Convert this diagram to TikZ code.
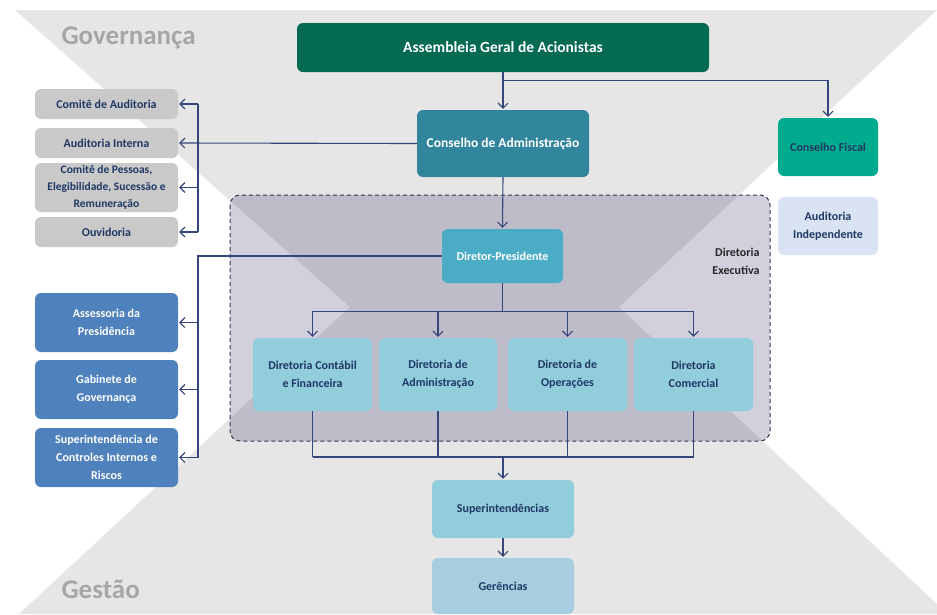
\documentclass[tikz,border=0pt]{standalone}
\usepackage{fontspec}
\setmainfont{Carlito}
\usetikzlibrary{arrows.meta}

\definecolor{bgGray}{HTML}{E6E6E6}
\definecolor{agGreen}{HTML}{046A51}
\definecolor{caTeal}{HTML}{31859C}
\definecolor{cfGreen}{HTML}{00AB8E}
\definecolor{aiBlue}{HTML}{DAE3F3}
\definecolor{comGray}{HTML}{C9C9C9}
\definecolor{dpBlue}{HTML}{4BACC6}
\definecolor{assBlue}{HTML}{4F81BD}
\definecolor{dirBlue}{HTML}{92CDDC}
\definecolor{gerBlue}{HTML}{A7CEDF}
\definecolor{navyTxt}{HTML}{1F3864}
\definecolor{lineBlue}{HTML}{35467A}
\definecolor{dashPurple}{HTML}{403151}
\definecolor{execFill}{HTML}{231459}
\definecolor{titleGray}{HTML}{A6A6A6}

\tikzset{
  box/.style={rounded corners=6pt, inner sep=2pt, align=center, text=navyTxt,
    font=\bfseries\fontsize{12}{18}\selectfont},
  gbox/.style={box, fill=comGray, minimum width=143pt, minimum height=30pt},
  bbox/.style={box, fill=assBlue, text=white, minimum width=143pt, minimum height=59pt},
  dbox/.style={box, fill=dirBlue, minimum width=119pt, minimum height=73pt},
  rbox/.style={box, minimum width=100pt, minimum height=58pt},
  title/.style={anchor=base west, text=titleGray, font=\bfseries\fontsize{27}{30}\selectfont},
  conn/.style={draw=lineBlue, line width=1.1pt},
  arr/.style={conn, -{Straight Barb[length=5pt,width=10pt]}, shorten >=1pt},
  execarea/.style={rounded corners=10pt, fill=execFill, fill opacity=0.2,
    draw=dashPurple, line width=1pt, dash pattern=on 4pt off 3pt}
}

\begin{document}
\begin{tikzpicture}[x=1pt,y=-1pt]
  \useasboundingbox (0,0) rectangle (937,614);
  % fundo
  \fill[bgGray] (15,10) -- (937,10) -- (619,307) -- (937,604) -- (937,614)
    -- (19,614) -- (350,307) -- cycle;
  \node[title] (gov) at (58,44) {Governança};
  \node[title] (ges) at (58,598) {Gestão};
  \draw[execarea] (230,195) rectangle (770,441);
  \node[anchor=east, align=right, text=black!85, font=\bfseries\fontsize{12}{18}\selectfont]
    (dex) at (763,261) {Diretoria\\Executiva};

  \draw
    (503,47.5) node[box, fill=agGreen, text=white, minimum width=412pt, minimum height=49pt,
      font=\bfseries\fontsize{15.5}{18}\selectfont] (ag) {Assembleia Geral de Acionistas}
    (503,143.5) node[box, fill=caTeal, text=white, minimum width=172pt, minimum height=67pt,
      font=\bfseries\fontsize{13.5}{18}\selectfont] (ca) {Conselho de Administração}
    (828,147) node[rbox, fill=cfGreen] (cf) {Conselho Fiscal}
    (828,226) node[rbox, fill=aiBlue] (ai) {Auditoria\\Independente}
    (106.5,104) node[gbox] (cau) {Comitê de Auditoria}
    (106.5,143) node[gbox] (aint) {Auditoria Interna}
    (106.5,187.5) node[gbox, minimum height=49pt, font=\bfseries\fontsize{11.5}{17}\selectfont]
      (cpes) {Comitê de Pessoas,\\Elegibilidade, Sucessão e\\Remuneração}
    (106.5,232) node[gbox] (ouv) {Ouvidoria}
    (502.5,256) node[box, fill=dpBlue, text=white, minimum width=121pt, minimum height=54pt]
      (dp) {Diretor-Presidente}
    (106.5,322.5) node[bbox] (ass) {Assessoria da\\Presidência}
    (106.5,389.5) node[bbox] (gab) {Gabinete de\\Governança}
    (106.5,457.5) node[bbox] (sci) {Superintendência de\\Controles Internos e\\Riscos}
    (312.5,374.5) node[dbox] (dcf) {Diretoria Contábil\\e Financeira}
    (438,374.5) node[dbox, minimum width=118pt] (dad) {Diretoria de\\Administração}
    (567.5,374.5) node[dbox] (dop) {Diretoria de\\Operações}
    (693.5,374.5) node[dbox] (dco) {Diretoria\\Comercial}
    (503,509) node[box, fill=dirBlue, minimum width=142pt, minimum height=58pt] (sup) {Superintendências}
    (503,586) node[box, fill=gerBlue, minimum width=142pt, minimum height=56pt] (ger) {Gerências};

  % governanca
  \coordinate (gbus) at (198,0);
  \draw[arr] (ag.south) -- (ca.north);
  \draw[arr] (ag.south) ++(0,8) -| (cf.north);
  \draw[arr] (ca.west) -- (aint.east);
  \draw[conn] (gbus |- cau.east) -- (gbus |- ouv.east);
  \foreach \b in {cau,cpes,ouv}
    \draw[arr] (gbus |- \b.east) -- (\b.east);
  \draw[arr] (ca.south) -- (dp.north);

  % gestao
  \draw[conn] (dp.west) -| (gbus |- sci.east);
  \foreach \b in {ass,gab,sci}
    \draw[arr] (gbus |- \b.east) -- (\b.east);
  \draw[conn] (dp.south) -- ++(0,28) coordinate (split);
  \draw[conn] (dcf.north |- split) -- (dco.north |- split);
  \foreach \b in {dcf,dad,dop,dco}
    \draw[arr] (\b.north |- split) -- (\b.north);
  \coordinate (merge) at (503,457);
  \foreach \b in {dcf,dad,dop,dco}
    \draw[conn] (\b.south) -- (\b.south |- merge);
  \draw[conn] (dcf.south |- merge) -- (dco.south |- merge);
  \draw[arr] (merge) -- (sup.north);
  \draw[arr] (sup.south) -- (ger.north);
\end{tikzpicture}
\end{document}
